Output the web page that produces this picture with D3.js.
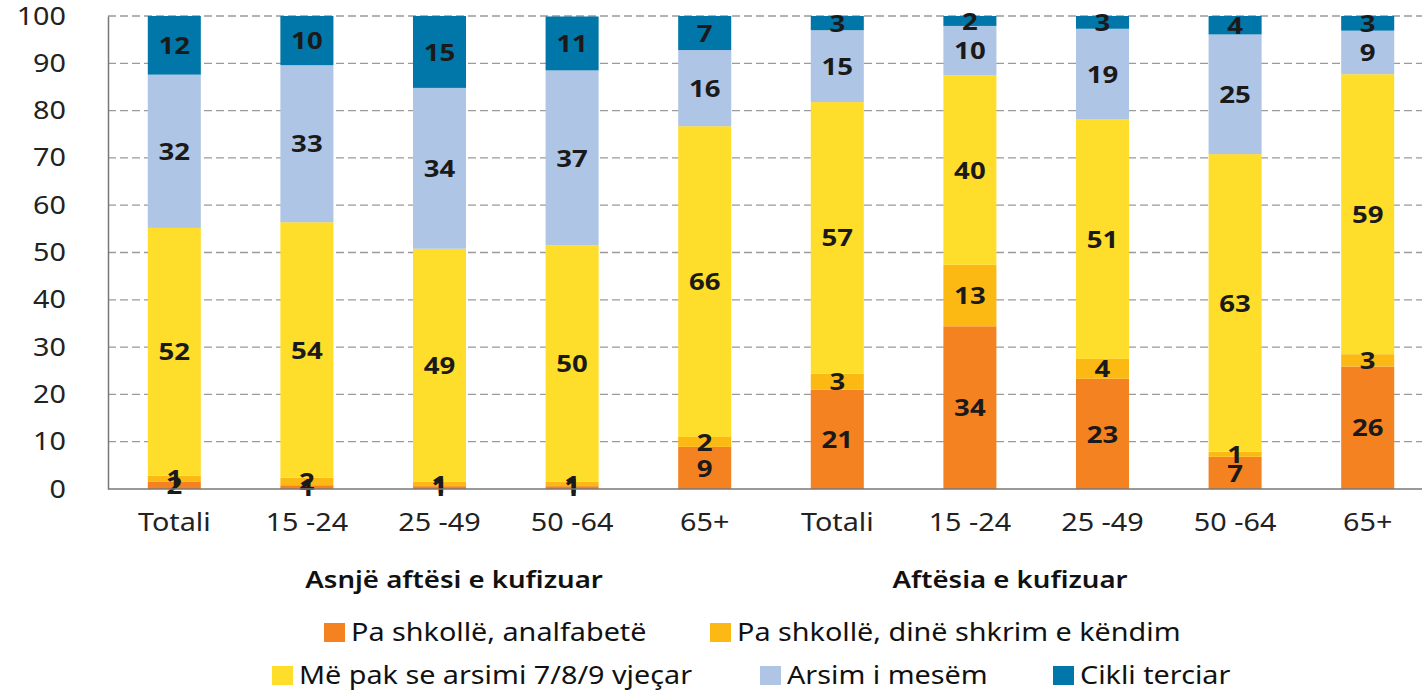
<!DOCTYPE html>
<html>
<head>
<meta charset="utf-8">
<script src="https://cdn.jsdelivr.net/npm/d3@7"></script>
<style>
  body { margin: 0; background: #fff; }
  svg { display: block; font-family: "Noto Sans", "Open Sans", sans-serif; }
</style>
</head>
<body>
<div id="chart"></div>
<script>
// categories (10 bars, two groups of 5)
const categories = ["Totali", "15 -24", "25 -49", "50 -64", "65+", "Totali", "15 -24", "25 -49", "50 -64", "65+"];
const groups = ["Asnjë aftësi e kufizuar", "Aftësia e kufizuar"];
const seriesNames = ["Pa shkollë, analfabetë", "Pa shkollë, dinë shkrim e këndim", "Më pak se arsimi 7/8/9 vjeçar", "Arsim i mesëm", "Cikli terciar"];
const seriesColors = ["#F58220", "#FDB913", "#FFDD2B", "#AFC5E6", "#0077A8"];

// values in percent
const noSchoolIlliterate = [1.5, 0.8, 0.6, 0.6, 8.9, 21.0, 34.4, 23.3, 6.8, 25.9];
const noSchoolLiterate   = [1.3, 1.6, 0.9, 0.9, 2.1, 3.4, 13.0, 4.2, 1.1, 2.6];
const lessThanBasic      = [52.4, 54.0, 49.3, 50.0, 65.7, 57.4, 40.1, 50.7, 62.9, 59.2];
const secondary          = [32.4, 33.2, 34.0, 37.0, 16.1, 15.2, 10.4, 19.1, 25.3, 9.2];
const tertiary           = [12.4, 10.4, 15.2, 11.4, 7.2, 3.0, 2.1, 2.7, 3.9, 3.1];
const yTicks = [0, 10, 20, 30, 40, 50, 60, 70, 80, 90, 100];

const series = [noSchoolIlliterate, noSchoolLiterate, lessThanBasic, secondary, tertiary];

const W = 1422, H = 691;
const plotLeft = 108, plotTop = 16, plotBottom = 489, plotRight = 1434;
const fs = 25, sx = 1.15; // source picture is stretched horizontally

const rows = categories.map((c, i) => {
  const r = { idx: i };
  series.forEach((s, k) => r["s" + k] = s[i]);
  return r;
});

const svg = d3.select("#chart").append("svg")
  .attr("width", W).attr("height", H);

const x = d3.scaleBand()
  .domain(d3.range(categories.length))
  .range([plotLeft, plotRight])
  .paddingInner(0.6)
  .paddingOuter(0.3);

const y = d3.scaleLinear().domain([0, 100]).range([plotBottom, plotTop]);

// gridlines
svg.append("g")
  .selectAll("line")
  .data(yTicks.filter(t => t > 0))
  .join("line")
  .attr("x1", plotLeft).attr("x2", W)
  .attr("y1", d => y(d)).attr("y2", d => y(d))
  .attr("stroke", "#9a9a9a")
  .attr("stroke-width", 1.3)
  .attr("stroke-dasharray", "8,4");

const stack = d3.stack().keys(series.map((s, k) => "s" + k));
const stacked = stack(rows);

const layer = svg.append("g").selectAll("g")
  .data(stacked)
  .join("g")
  .attr("fill", (d, k) => seriesColors[k]);

layer.selectAll("rect")
  .data(d => d)
  .join("rect")
  .attr("x", d => x(d.data.idx))
  .attr("width", x.bandwidth())
  .attr("y", d => y(d[1]))
  .attr("height", d => y(d[0]) - y(d[1]));

// value labels
const lbl = svg.append("g")
  .attr("font-size", 24)
  .attr("font-weight", "bold")
  .attr("fill", "#1a1a1a")
  .attr("text-anchor", "middle");

stacked.forEach((s, k) => {
  lbl.selectAll(null)
    .data(s)
    .join("text")
    .attr("transform", d => `translate(${x(d.data.idx) + x.bandwidth() / 2},${y((d[0] + d[1]) / 2)}) scale(${sx},1)`)
    .attr("dy", "0.36em")
    .text(d => Math.round(d[1] - d[0]));
});

// y axis
const yAxis = svg.append("g")
  .attr("transform", `translate(${plotLeft},0)`)
  .call(d3.axisLeft(y).tickValues(yTicks).tickSize(0).tickPadding(0));
yAxis.select(".domain").attr("stroke", "#777").attr("stroke-width", 1.5);
yAxis.selectAll("text")
  .attr("x", null)
  .attr("transform", `translate(-42,0) scale(${sx},1)`)
  .attr("font-size", fs).attr("fill", "#222")
  .attr("font-family", "Noto Sans, sans-serif");

// x axis
const xAxis = svg.append("g")
  .attr("transform", `translate(0,${plotBottom})`)
  .call(d3.axisBottom(x).tickFormat(i => categories[i]).tickSize(0).tickPadding(24));
xAxis.select(".domain").attr("stroke", "#777").attr("stroke-width", 1.5)
  .attr("d", `M${plotLeft},0H${W}`);
xAxis.selectAll("text")
  .attr("transform", `scale(${sx},1)`)
  .attr("font-size", fs).attr("fill", "#222")
  .attr("font-family", "Noto Sans, sans-serif");

// group labels
const groupX = [454, 1010];
svg.append("g").selectAll("text")
  .data(groups)
  .join("text")
  .attr("transform", (d, i) => `translate(${groupX[i]},588) scale(${sx},1)`)
  .attr("text-anchor", "middle")
  .attr("font-size", 24)
  .attr("font-weight", 600)
  .attr("fill", "#111")
  .text(d => d);

// legend
const legendPos = [
  { x: 324, y: 632 }, { x: 710, y: 632 },
  { x: 272, y: 675 }, { x: 760, y: 675 }, { x: 1053, y: 675 }
];
const lg = svg.append("g").selectAll("g")
  .data(seriesNames)
  .join("g")
  .attr("transform", (d, i) => `translate(${legendPos[i].x},${legendPos[i].y})`);
lg.append("rect")
  .attr("x", 0).attr("y", -9)
  .attr("width", 21).attr("height", 19)
  .attr("fill", (d, i) => seriesColors[i]);
lg.append("text")
  .attr("transform", `translate(27,0) scale(${sx},1)`)
  .attr("dy", "0.36em")
  .attr("font-size", fs)
  .attr("fill", "#111")
  .text(d => d);
</script>
</body>
</html>
